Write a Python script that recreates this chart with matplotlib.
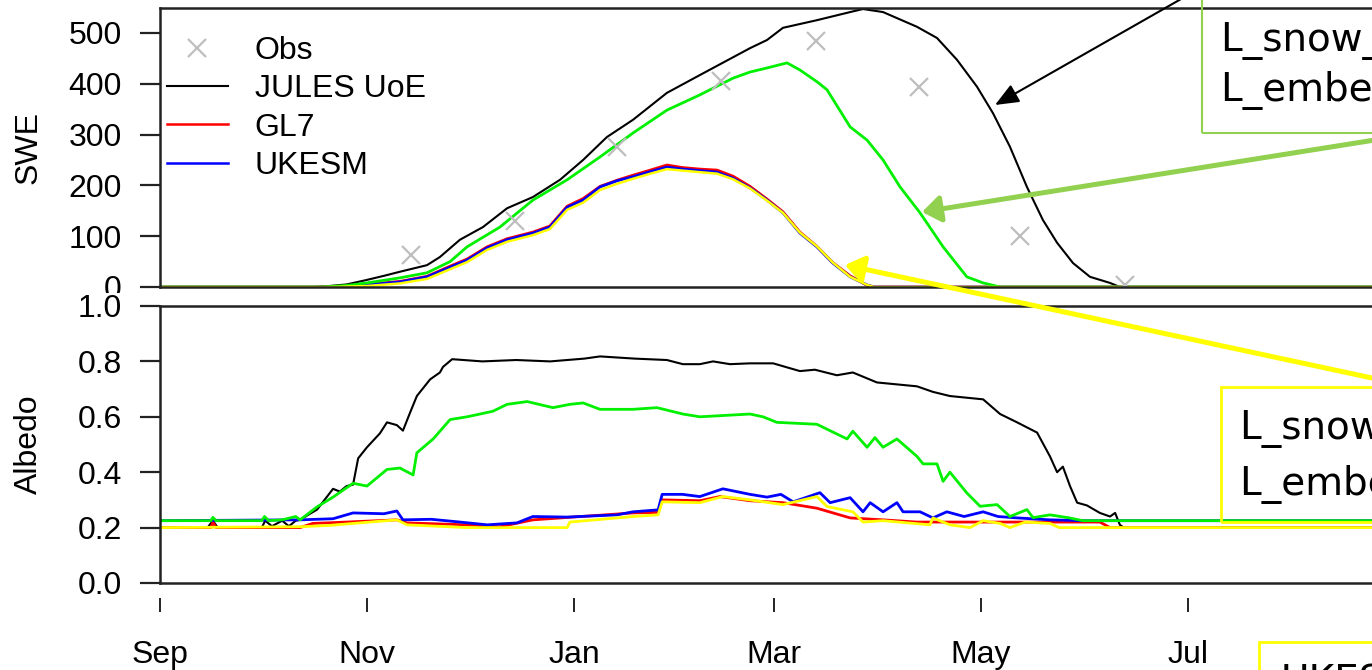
import matplotlib
matplotlib.use('Agg')
import matplotlib.pyplot as plt
from matplotlib.patches import Rectangle, FancyArrowPatch
from matplotlib.lines import Line2D

plt.rcParams['font.family'] = ['Liberation Sans', 'DejaVu Sans']

# ---------------- data (day 0 = 1 Sep) ----------------
month_ticks = [0, 61, 122, 181, 242, 303]
month_labels = ['Sep', 'Nov', 'Jan', 'Mar', 'May', 'Jul']

obs_days = [74.0, 104.6, 134.7, 165.3, 193.3, 223.7, 253.5, 284.4]
obs_swe = [63, 130, 276, 406, 484, 394, 100, 4]

swe_jules_days = [0, 45, 50, 55, 61, 66, 70.7, 78.7, 82.5, 88.4, 95.2, 102.3, 109.9, 117.9, 124.7,
                  131.7, 139.4, 149.4, 159.1, 173.9, 178.9, 183.6, 193.6, 203.4, 207.2, 213.1, 223.1,
                  229.0, 234.9, 240.8, 245.5, 250.5, 255.5, 260.2, 264.4, 269.1, 274.1, 280.0, 282.9, 365]
swe_jules = [0, 0, 2, 5, 14, 22, 30, 43, 59, 93, 118, 155, 177, 211, 250,
             295, 329, 382, 417, 470, 486, 510, 525, 541, 547, 541, 512,
             490, 447, 394, 342, 276, 197, 132, 87, 47, 20, 8, 0, 0]

swe_green_days = [0, 48, 55, 61, 70.7, 78.7, 85.5, 90.5, 100.2, 109.9, 120.0, 129.7, 139.4, 149.4,
                  159.1, 168.9, 173.9, 178.9, 184.8, 188.6, 193.6, 196.6, 203.4, 208.4, 213.1, 218.1,
                  224.0, 230.8, 237.8, 242.6, 247.6, 365]
swe_green = [0, 0, 3, 8, 18, 28, 50, 79, 118, 171, 211, 256, 303, 348,
             378, 411, 423, 431, 441, 427, 404, 388, 315, 289, 250, 197,
             146, 79, 20, 8, 0, 0]

swe_rb_days = [0, 51, 61, 70.7, 78.7, 85.5, 90.5, 96.4, 102.3, 109.9, 114.9, 120.0, 124.7, 129.7,
               134.7, 139.4, 144.0, 149.4, 154.0, 159.1, 164.2, 168.9, 173.9, 178.9, 183.6, 188.6,
               193.6, 198.3, 203.4, 208.4, 210.5, 365]
swe_gl7 = [0, 0, 5, 11, 21, 41, 55, 79, 95, 108, 120, 159, 174, 198,
           210, 220, 229, 240, 235, 232, 230, 218, 198, 173, 148, 108,
           80, 48, 22, 3, 0, 0]
swe_ukesm = [0, 0, 4, 10, 20, 39, 53, 77, 93, 106, 118, 157, 171, 197,
             209, 217, 226, 236, 232, 229, 226, 214, 195, 171, 146, 106,
             79, 47, 20, 4, 0, 0]
swe_yellow = [0, 0, 2, 7, 16, 35, 49, 73, 89, 102, 114, 152, 166, 191,
              203, 213, 222, 232, 229, 226, 223, 212, 194, 170, 146, 107,
              80, 48, 20, 4, 0, 0]

alb_jules_days = [0, 14, 15.6, 17, 30, 31, 33, 36, 38, 40, 41.3, 44.2, 46.3, 51, 53, 55, 56.9, 58.4,
                  61, 64.8, 66.9, 69.8, 71.6, 73.7, 75.7, 79.6, 82.5, 83.4, 86.1, 95, 105, 115, 125,
                  129.7, 140, 149.4, 154.1, 159.1, 163, 168, 173.9, 180.7, 188.6, 193, 199.5, 204.2,
                  211.3, 223.1, 227.8, 232.8, 242.6, 247.6, 252.6, 258.5, 262.3, 264.4, 266.1, 268.2,
                  270.3, 273.2, 277, 280, 281.5, 282.9, 284, 365]
alb_jules = [0.20, 0.20, 0.225, 0.20, 0.20, 0.225, 0.205, 0.225, 0.205, 0.225, 0.228, 0.25, 0.265,
             0.34, 0.33, 0.35, 0.355, 0.45, 0.49, 0.54, 0.58, 0.57, 0.55, 0.615, 0.675, 0.735, 0.76,
             0.78, 0.808, 0.80, 0.805, 0.80, 0.81, 0.818, 0.81, 0.805, 0.79, 0.79, 0.80, 0.79, 0.793,
             0.793, 0.765, 0.77, 0.75, 0.76, 0.724, 0.71, 0.69, 0.675, 0.663, 0.61, 0.58, 0.543,
             0.457, 0.40, 0.42, 0.35, 0.29, 0.28, 0.253, 0.24, 0.253, 0.21, 0.20, 0.20]

alb_green_days = [0, 15, 15.6, 16.5, 30, 30.8, 32, 36, 40, 41.3, 46.3, 51, 56.9, 61, 66.9, 70.7, 74.6,
                  75.7, 80.5, 85.5, 90.5, 98.1, 102.3, 108.2, 115.8, 120.8, 124.7, 129.7, 139.4,
                  146.5, 154.1, 159.1, 173.9, 177.7, 181.8, 193.6, 202.5, 204.2, 208.4, 210.7, 213.1,
                  217.2, 223.1, 224.9, 229, 230.8, 232.8, 237.8, 241.7, 246.7, 250.5, 255.5, 257.3,
                  262.3, 268, 272, 365]
alb_green = [0.225, 0.225, 0.237, 0.225, 0.225, 0.24, 0.225, 0.228, 0.24, 0.228, 0.275, 0.31, 0.36,
             0.35, 0.41, 0.415, 0.39, 0.47, 0.52, 0.59, 0.60, 0.62, 0.645, 0.655, 0.633, 0.645, 0.65,
             0.627, 0.627, 0.633, 0.61, 0.60, 0.61, 0.60, 0.58, 0.573, 0.52, 0.548, 0.49, 0.525, 0.49,
             0.52, 0.457, 0.43, 0.43, 0.367, 0.40, 0.325, 0.277, 0.283, 0.24, 0.265, 0.236, 0.246,
             0.235, 0.225, 0.225]

alb_ukesm_days = [0, 41.3, 51, 56.9, 66, 69.8, 71.6, 80, 88.4, 96.4, 105.2, 109.9, 120, 134.7, 139.4,
                  146.8, 148, 154, 159.1, 165.9, 173.9, 178.9, 183, 186.6, 194.5, 197.5, 203.4, 207.2,
                  209.3, 213.1, 217.2, 219, 224, 227.8, 231.9, 237, 242.6, 247, 252.6, 262.3, 272, 365]
alb_ukesm = [0.225, 0.228, 0.232, 0.253, 0.25, 0.26, 0.228, 0.23, 0.22, 0.21, 0.217, 0.24, 0.238,
             0.246, 0.257, 0.264, 0.32, 0.32, 0.312, 0.34, 0.32, 0.31, 0.32, 0.293, 0.326, 0.29,
             0.308, 0.257, 0.29, 0.257, 0.29, 0.257, 0.257, 0.235, 0.257, 0.24, 0.257, 0.24, 0.235,
             0.228, 0.225, 0.225]

alb_gl7_days = [0, 15, 15.6, 16.5, 41.3, 45, 55, 69.8, 72.8, 90.5, 100.2, 109.9, 139.4, 146.8, 148,
                159.1, 165, 173.9, 183.6, 193.6, 203.4, 213.1, 223, 270, 277, 280, 365]
alb_gl7 = [0.20, 0.20, 0.22, 0.20, 0.20, 0.215, 0.22, 0.228, 0.217, 0.21, 0.203, 0.228, 0.253, 0.255,
           0.30, 0.297, 0.312, 0.297, 0.29, 0.27, 0.235, 0.228, 0.22, 0.22, 0.22, 0.20, 0.20]

alb_yellow_days = [0, 41.3, 50, 69.8, 72.8, 90.5, 120, 120.8, 139.4, 146.8, 148, 159.1, 165.9, 173.9,
                   183.6, 193.6, 196.6, 204.2, 207.2, 213.1, 226.9, 227.8, 232.8, 238.7, 242.6, 247.6,
                   250.5, 255, 262.3, 265, 365]
alb_yellow = [0.20, 0.203, 0.208, 0.228, 0.21, 0.20, 0.20, 0.22, 0.24, 0.246, 0.293, 0.29, 0.312,
              0.30, 0.283, 0.312, 0.276, 0.257, 0.22, 0.225, 0.21, 0.235, 0.21, 0.20, 0.225, 0.215,
              0.20, 0.22, 0.215, 0.20, 0.20]

# ---------------- layout ----------------
W, H = 1372, 670
fig = plt.figure(figsize=(W / 100, H / 100), dpi=100)
PX_PER_DAY = 3.393
X0 = 160
XMAX = 365
ax_w = XMAX * PX_PER_DAY

ax1 = fig.add_axes([X0 / W, (H - 287) / H, ax_w / W, (287 - 8) / H])
ax2 = fig.add_axes([X0 / W, (H - 583) / H, ax_w / W, (583 - 306) / H])
ax2.set_zorder(2)

FS = 23
C_BLACK, C_RED, C_BLUE, C_GREEN, C_YELLOW = 'black', '#FF0000', '#0000FF', '#00F000', '#FFFF00'

# SWE panel
ax1.plot(swe_jules_days, swe_jules, color=C_BLACK, lw=1.5)
ax1.plot(swe_rb_days, swe_gl7, color=C_RED, lw=2.0)
ax1.plot(swe_rb_days, swe_ukesm, color=C_BLUE, lw=2.0)
ax1.plot(swe_green_days, swe_green, color=C_GREEN, lw=2.0)
ax1.plot(swe_rb_days, swe_yellow, color=C_YELLOW, lw=1.8)
ax1.plot(obs_days, obs_swe, ls='none', marker='x', color='#BEBEBE', ms=13, mew=1.6)
ax1.set_xlim(0, XMAX)
ax1.set_ylim(0, 549)
ax1.set_yticks([0, 100, 200, 300, 400, 500])
ax1.set_ylabel('SWE', fontsize=FS)

# Albedo panel
ax2.plot(alb_jules_days, alb_jules, color=C_BLACK, lw=1.5)
ax2.plot(alb_gl7_days, alb_gl7, color=C_RED, lw=2.0)
ax2.plot(alb_ukesm_days, alb_ukesm, color=C_BLUE, lw=2.0)
ax2.plot(alb_yellow_days, alb_yellow, color=C_YELLOW, lw=2.0)
ax2.plot(alb_green_days, alb_green, color=C_GREEN, lw=2.0)
ax2.set_xlim(0, XMAX)
ax2.set_ylim(0, 1.0)
ax2.set_yticks([0.0, 0.2, 0.4, 0.6, 0.8, 1.0])
ax2.set_yticklabels(['0.0', '0.2', '0.4', '0.6', '0.8', '1.0'])
ax2.set_ylabel('Albedo', fontsize=FS)

for ax in (ax1, ax2):
    for s in ax.spines.values():
        s.set_linewidth(1.8)
        s.set_color('#222222')
    ax.tick_params(axis='x', bottom=False, labelbottom=False)
    ax.tick_params(axis='y', length=14.4, width=1.6, pad=13, labelsize=FS, color='#222222')
    ax.yaxis.set_label_coords(-(X0 - 44) / ax_w, 0.5)

secax = ax2.secondary_xaxis(-(598 - 583) / 277)
secax.set_xticks(month_ticks, labels=month_labels)
secax.spines['bottom'].set_visible(False)
secax.tick_params(length=10, width=1.4, pad=20, labelsize=FS, color='#222222')

handles = [Line2D([], [], ls='none', marker='x', color='#BEBEBE', ms=13, mew=1.6),
           Line2D([], [], color=C_BLACK, lw=1.5),
           Line2D([], [], color=C_RED, lw=1.8),
           Line2D([], [], color=C_BLUE, lw=1.8)]
ax1.legend(handles, ['Obs', 'JULES UoE', 'GL7', 'UKESM'], loc='upper left',
           bbox_to_anchor=(167 / W, 1 - 36 / H), bbox_transform=fig.transFigure,
           frameon=False, fontsize=FS, handlelength=1.9, handletextpad=0.85,
           labelspacing=0.26, borderpad=0, borderaxespad=0)

# white strip hiding lower part of the SWE "0" label (as in the source)
fig.add_artist(Rectangle((0, 1 - 305 / H), 158 / W, 12 / H, transform=fig.transFigure,
                         facecolor='white', edgecolor='none', zorder=1))

# ---------------- slide annotations ----------------
def fpt(x, y):
    return (x / W, 1 - y / H)

GREEN_BOX = '#92D050'
fig.add_artist(Rectangle(fpt(1202, 133), 300 / W, 200 / H, transform=fig.transFigure,
                         facecolor='none', edgecolor=GREEN_BOX, lw=1.5, zorder=5))
fig.add_artist(Rectangle(fpt(1221, 522), 300 / W, 135 / H, transform=fig.transFigure,
                         facecolor='none', edgecolor=C_YELLOW, lw=2.0, zorder=5))
fig.add_artist(Rectangle(fpt(1259, 700), 300 / W, 58 / H, transform=fig.transFigure,
                         facecolor='none', edgecolor=C_YELLOW, lw=2.0, zorder=5))

TXT = dict(family=['DejaVu Sans'], fontsize=28, color='black', va='center', ha='left',
           zorder=6)
fig.text(*fpt(1221, 40), 'L_snow_albedo = T', **TXT)
fig.text(*fpt(1221, 91), 'L_embedded_snow = T', **TXT)
fig.text(*fpt(1240, 428), 'L_snow_albedo = T', **TXT)
fig.text(*fpt(1240, 484), 'L_embedded_snow = F', **TXT)
fig.text(*fpt(1281, 693), 'UKESM', **dict(TXT, va='baseline'))

fig.add_artist(FancyArrowPatch(fpt(1232, -30), fpt(995, 105), transform=fig.transFigure,
                               arrowstyle='-|>,head_length=0.6,head_width=0.25', mutation_scale=24,
                               color='black', lw=1.5, shrinkA=0, shrinkB=0, zorder=7))
fig.add_artist(FancyArrowPatch(fpt(1400, 136), fpt(922, 212), transform=fig.transFigure,
                               arrowstyle='-|>,head_length=0.55,head_width=0.4', mutation_scale=20,
                               color=GREEN_BOX, lw=3.6, shrinkA=0, shrinkB=0, zorder=7))
fig.add_artist(FancyArrowPatch(fpt(1400, 384), fpt(845, 265), transform=fig.transFigure,
                               arrowstyle='-|>,head_length=0.55,head_width=0.4', mutation_scale=20,
                               color=C_YELLOW, lw=3.6, shrinkA=0, shrinkB=0, zorder=7))

fig.savefig('out.png', dpi=100, facecolor='white')
